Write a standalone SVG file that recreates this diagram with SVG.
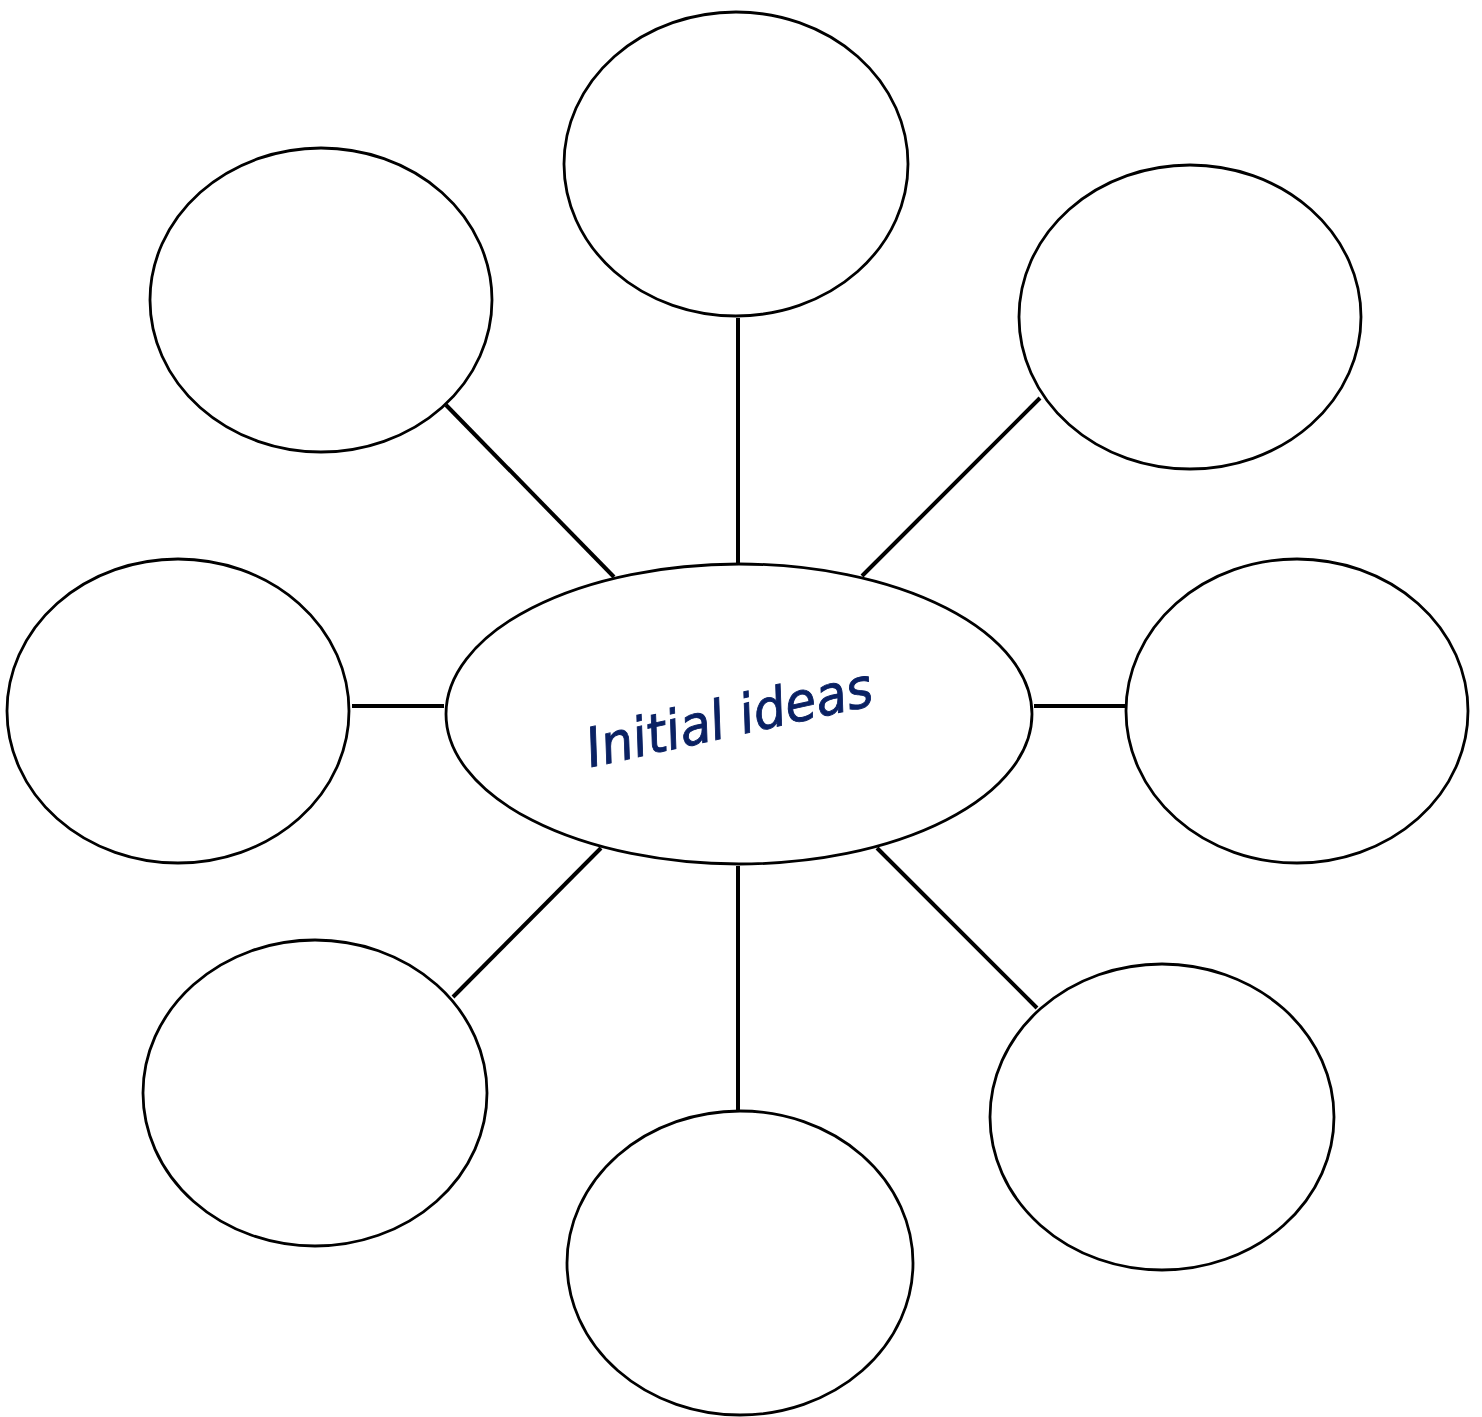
<svg xmlns="http://www.w3.org/2000/svg" width="1482" height="1417" viewBox="0 0 1482 1417">
<style>
.n{fill:#fff;stroke:#000;stroke-width:2.8}
.c line{stroke:#000;stroke-width:4}
.t{font-family:"DejaVu Sans",sans-serif;font-style:italic;font-size:54px;fill:#0a2163;stroke:#0a2163;stroke-width:0.9}
</style>
<rect width="1482" height="1417" fill="#fff"/>
<g class="c" id="connectors">
<line x1="738" y1="318" x2="738" y2="566"/>
<line x1="446" y1="405" x2="614" y2="577"/>
<line x1="1040" y1="398" x2="862" y2="576"/>
<line x1="352" y1="706" x2="444" y2="706"/>
<line x1="1034" y1="706" x2="1126" y2="706"/>
<line x1="453" y1="997" x2="601" y2="848"/>
<line x1="738" y1="866" x2="738" y2="1111"/>
<line x1="877" y1="848" x2="1037" y2="1008"/>
</g>
<g id="top"><ellipse class="n" cx="736" cy="164" rx="172" ry="152"/></g>
<g id="top-left"><ellipse class="n" cx="321" cy="300" rx="171" ry="152"/></g>
<g id="top-right"><ellipse class="n" cx="1190" cy="317" rx="171" ry="152"/></g>
<g id="left"><ellipse class="n" cx="178" cy="711" rx="171" ry="152"/></g>
<g id="right"><ellipse class="n" cx="1297" cy="711" rx="171" ry="152"/></g>
<g id="bottom-left"><ellipse class="n" cx="315" cy="1093" rx="172" ry="153"/></g>
<g id="bottom"><ellipse class="n" cx="740" cy="1263" rx="173" ry="152"/></g>
<g id="bottom-right"><ellipse class="n" cx="1162" cy="1117" rx="172" ry="153"/></g>
<g id="center"><ellipse class="n" cx="739" cy="714" rx="293" ry="150"/>
<text class="t" x="733" y="736" text-anchor="middle" textLength="292" lengthAdjust="spacingAndGlyphs" transform="rotate(-12.4 733 736)">Initial ideas</text></g>
</svg>
